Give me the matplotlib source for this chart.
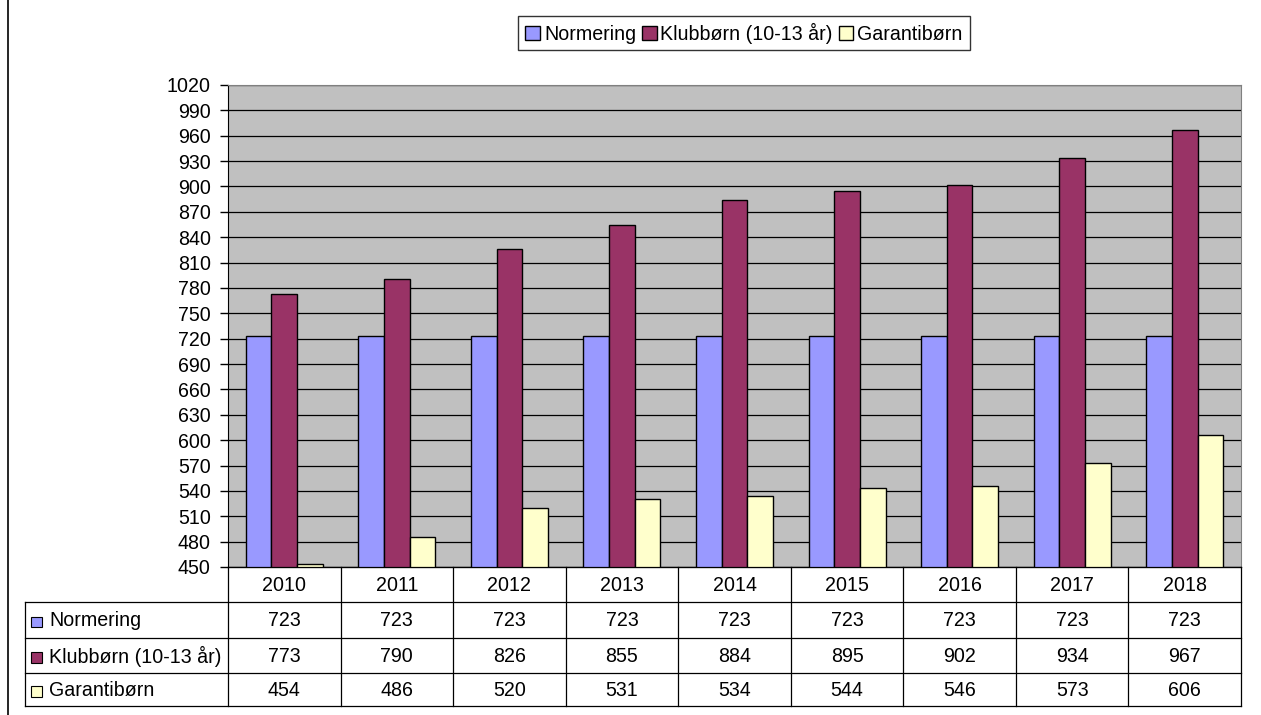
import numpy as np
import matplotlib.pyplot as plt
from matplotlib.patches import Rectangle

plt.rcParams['font.family'] = ['Liberation Sans', 'DejaVu Sans']

# data
aar = ['2010', '2011', '2012', '2013', '2014', '2015', '2016', '2017', '2018']
normering = [723, 723, 723, 723, 723, 723, 723, 723, 723]
klubborn = [773, 790, 826, 855, 884, 895, 902, 934, 967]
garantiborn = [454, 486, 520, 531, 534, 544, 546, 573, 606]
serie_navne = ['Normering', 'Klubbørn (10-13 år)', 'Garantibørn']
farver = ['#9999FF', '#993366', '#FFFFCC']

W, H = 1261, 715
fs = 14.1
fig = plt.figure(figsize=(W / 100, H / 100), dpi=100)

# pixel-grænser for plotområdet
px_l, px_r, px_t, px_b = 228, 1241, 85, 567
ax = fig.add_axes([px_l / W, 1 - px_b / H, (px_r - px_l) / W, (px_b - px_t) / H])
ax.set_facecolor('#C0C0C0')

x = np.arange(len(aar))
bw = 0.228
serier = [normering, klubborn, garantiborn]
for i, (vals, farve, navn) in enumerate(zip(serier, farver, serie_navne)):
    ax.bar(x + (i - 1) * bw, vals, width=bw, color=farve, edgecolor='black',
           linewidth=1, label=navn, zorder=3)

ax.set_xlim(-0.5, len(aar) - 0.5)
ax.set_ylim(450, 1020)
ax.set_yticks(np.arange(450, 1021, 30))
ax.yaxis.grid(True, color='black', linewidth=0.9, zorder=1)
ax.set_axisbelow(True)
ax.set_xticks([])
ax.tick_params(axis='y', direction='out', length=6, width=1, labelsize=fs, pad=6.5)
ax.spines['left'].set_color('black')
ax.spines['bottom'].set_color('black')
ax.spines['top'].set_color('#808080')
ax.spines['right'].set_color('#808080')

# legende øverst
handles, labels = ax.get_legend_handles_labels()
leg = fig.legend(handles, labels, loc='center', bbox_to_anchor=(744 / W, 1 - 33 / H),
                 ncol=3, fontsize=fs, frameon=True, fancybox=False,
                 handlelength=0.75, handleheight=0.75, handletextpad=0.2,
                 columnspacing=0.3, borderpad=0.35, borderaxespad=0)
leg.get_frame().set_edgecolor('black')
leg.get_frame().set_linewidth(1)

# datatabel under diagrammet
tab = fig.add_axes([0, 0, 1, 1], facecolor='none')
tab.set_xlim(0, W)
tab.set_ylim(H, 0)
tab.axis('off')

col_w = (px_r - px_l) / len(aar)
row_y = [567, 602, 638, 673, 706]
tab_l = 25
lc = 'black'
lw = 0.9

# vandrette linjer
tab.plot([px_l, px_r], [row_y[0], row_y[0]], color=lc, lw=lw)
for y in row_y[1:]:
    tab.plot([tab_l, px_r], [y, y], color=lc, lw=lw)
# lodrette linjer
tab.plot([tab_l, tab_l], [row_y[1], row_y[-1]], color=lc, lw=lw)
for k in range(len(aar) + 1):
    xx = px_l + k * col_w
    tab.plot([xx, xx], [row_y[0], row_y[-1]], color=lc, lw=lw)

for k, a in enumerate(aar):
    tab.text(px_l + (k + 0.5) * col_w, (row_y[0] + row_y[1]) / 2 + 1, a,
             ha='center', va='center', fontsize=fs)

for r, (vals, farve, navn) in enumerate(zip(serier, farver, serie_navne)):
    yc = (row_y[r + 1] + row_y[r + 2]) / 2 + 1
    tab.add_patch(Rectangle((31, yc - 4.5), 10.5, 10.5, facecolor=farve, edgecolor='black', lw=0.8))
    tab.text(49, yc, navn, ha='left', va='center', fontsize=fs)
    for k, v in enumerate(vals):
        tab.text(px_l + (k + 0.5) * col_w, yc, str(v), ha='center', va='center', fontsize=fs)

# ramme til venstre
tab.plot([8, 8], [0, H], color='black', lw=1.2)

fig.savefig('out.png', dpi=100)
